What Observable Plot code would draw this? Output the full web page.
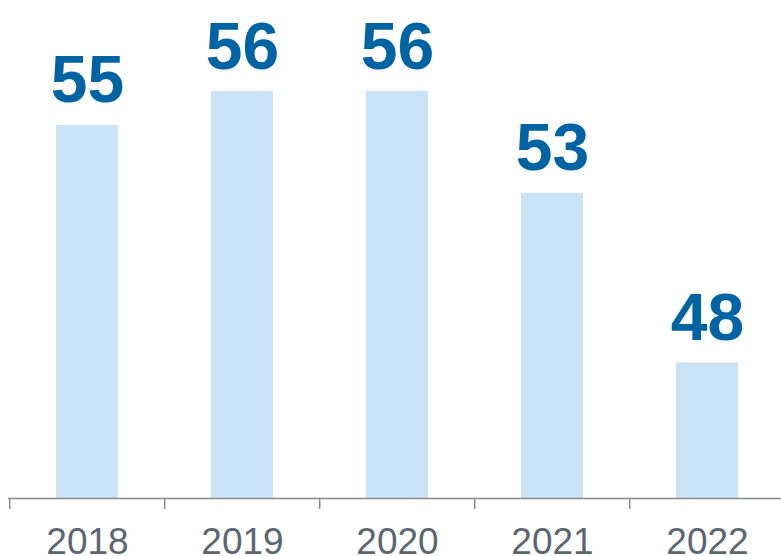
<!DOCTYPE html>
<html>
<head>
<meta charset="utf-8">
<script src="https://cdn.jsdelivr.net/npm/d3@7"></script>
<script src="https://cdn.jsdelivr.net/npm/@observablehq/plot@0.6"></script>
<style>
  html, body { margin: 0; padding: 0; background: #fff; }
  svg { display: block; }
</style>
</head>
<body>
<div id="chart"></div>
<script>
const years = ["2018", "2019", "2020", "2021", "2022"];
const values = [55, 56, 56, 53, 48];
const yBase = 44;

const data = years.map((year, i) => ({ year, value: values[i] }));

const W = 781, H = 556;
const xRange = [8, 786];
const step = (xRange[1] - xRange[0]) / years.length;

const chart = Plot.plot({
  width: W,
  height: H,
  marginTop: 0,
  marginBottom: 58,
  marginLeft: 8,
  marginRight: 0,
  style: { fontFamily: "'Liberation Sans', Arial, sans-serif", background: "#fff" },
  x: { type: "band", domain: years, range: xRange, paddingInner: 0.6, paddingOuter: 0.3, label: null, axis: null },
  y: { domain: [yBase, 56], range: [498, 91], axis: null },
  marks: [
    Plot.barY(data, { x: "year", y1: yBase, y2: "value", fill: "#cbe3f7" }),
    Plot.ruleY([yBase], { stroke: "#8a8a8a", strokeWidth: 1.5 }),
    Plot.axisX({ tickSize: 11, tickFormat: () => "", dx: -step / 2, stroke: "#8a8a8a", strokeWidth: 1.5, strokeOpacity: 1 }),
    Plot.axisX({ tickSize: 0, tickPadding: 29, fontSize: 37, fill: "#5b6670", label: null }),
    Plot.text(data, {
      x: "year", y: "value", text: d => String(d.value),
      lineAnchor: "bottom", dy: -23,
      fontSize: 66, fontWeight: "bold", fill: "#0063a3"
    })
  ]
});
document.getElementById("chart").append(chart);
</script>
</body>
</html>
